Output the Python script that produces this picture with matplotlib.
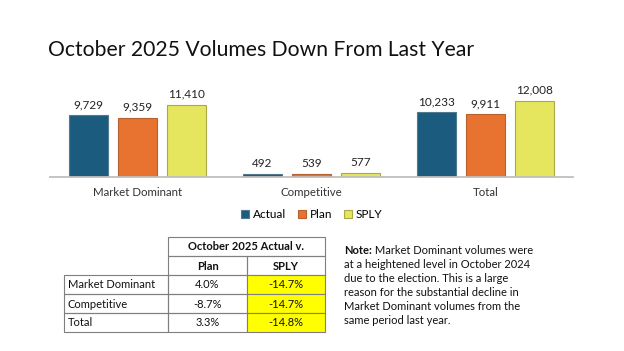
import matplotlib
matplotlib.use("Agg")
import matplotlib.pyplot as plt
from matplotlib.patches import Rectangle
import numpy as np

plt.rcParams['font.family'] = ['Lato', 'DejaVu Sans']

title = "October 2025 Volumes Down From Last Year"
categories = ["Market Dominant", "Competitive", "Total"]
series_names = ["Actual", "Plan", "SPLY"]
actual = [9729, 492, 10233]
plan = [9359, 539, 9911]
sply = [11410, 577, 12008]

table_header = "October 2025 Actual v."
table_cols = ["Plan", "SPLY"]
table_rows = ["Market Dominant", "Competitive", "Total"]
vs_plan = ["4.0%", "-8.7%", "3.3%"]
vs_sply = ["-14.7%", "-14.7%", "-14.8%"]

note_bold = "Note:"
note_lines = [" Market Dominant volumes were",
              "at a heightened level in October 2024",
              "due to the election. This is a large",
              "reason for the substantial decline in",
              "Market Dominant volumes from the",
              "same period last year."]

colors = ["#1B5C7E", "#E8722F", "#E6E65E"]
edges = ["#4F7A90", "#B9602F", "#A9A94A"]

W, H = 624, 351
fig = plt.figure(figsize=(W / 100, H / 100), dpi=100)

# overlay axes in pixel coords
ov = fig.add_axes([0, 0, 1, 1])
ov.set_xlim(0, W)
ov.set_ylim(H, 0)
ov.axis('off')

ov.text(48, 50, title, fontsize=15.2, va='center', ha='left', color='#111111')

# bar chart
ax = fig.add_axes([50 / W, 1 - 177 / H, 523 / W, 86 / H])
ax.patch.set_alpha(0)
x = np.arange(len(categories))
bw = 0.2235
off = 0.281
for i, (vals, name) in enumerate(zip([actual, plan, sply], series_names)):
    xs = x + (i - 1) * off
    bars = ax.bar(xs, vals, bw, color=colors[i], edgecolor=edges[i], linewidth=0.8,
                  label=name, zorder=2)
    for b, v in zip(bars, vals):
        ax.annotate(f"{v:,}", (b.get_x() + b.get_width() / 2, v), xytext=(0, 3.5),
                    textcoords='offset points', ha='center', va='bottom',
                    fontsize=8.5, color='#222222', annotation_clip=False)
ax.set_xlim(-0.5, 2.5)
ax.set_ylim(0, 13540)
for s in ['top', 'right', 'left']:
    ax.spines[s].set_visible(False)
ax.spines['bottom'].set_color('#BFBFBF')
ax.spines['bottom'].set_linewidth(1.3)
ax.set_yticks([])
ax.set_xticks(x)
ax.set_xticklabels(categories, fontsize=8.3, color='#333333')
ax.tick_params(axis='x', length=0, pad=7)
leg = ax.legend(loc='upper center', bbox_to_anchor=(0.5, -0.315), ncol=3, frameon=False,
                fontsize=8.5, handlelength=0.7, handleheight=0.7, handletextpad=0.3,
                columnspacing=1.0, borderaxespad=0)

# table
cx = [64, 168, 247, 325]
ry = [237, 256, 275, 294, 313, 332]
lc = '#7F7F7F'
lw = 0.8
fs = 8
# header rows
ov.add_patch(Rectangle((cx[1], ry[0]), cx[3] - cx[1], ry[1] - ry[0], fill=False, ec=lc, lw=lw))
ov.text((cx[1] + cx[3]) / 2, (ry[0] + ry[1]) / 2 + 0.5, table_header, ha='center', va='center',
        fontsize=fs, fontweight='bold', color='#111111')
for j, c in enumerate(table_cols):
    ov.add_patch(Rectangle((cx[1 + j], ry[1]), cx[2 + j] - cx[1 + j], ry[2] - ry[1], fill=False, ec=lc, lw=lw))
    ov.text((cx[1 + j] + cx[2 + j]) / 2, (ry[1] + ry[2]) / 2 + 0.5, c, ha='center', va='center',
            fontsize=fs, fontweight='bold', color='#111111')
for r, name in enumerate(table_rows):
    y0, y1 = ry[2 + r], ry[3 + r]
    ym = (y0 + y1) / 2 + 0.5
    ov.add_patch(Rectangle((cx[0], y0), cx[1] - cx[0], y1 - y0, fill=False, ec=lc, lw=lw))
    ov.text(cx[0] + 4, ym, name, ha='left', va='center', fontsize=fs, color='#111111')
    ov.add_patch(Rectangle((cx[1], y0), cx[2] - cx[1], y1 - y0, fill=False, ec=lc, lw=lw))
    ov.text((cx[1] + cx[2]) / 2, ym, vs_plan[r], ha='center', va='center', fontsize=fs, color='#111111')
    ov.add_patch(Rectangle((cx[2], y0), cx[3] - cx[2], y1 - y0, fc='#FFFF00', ec=lc, lw=lw))
    ov.text((cx[2] + cx[3]) / 2, ym, vs_sply[r], ha='center', va='center', fontsize=fs, color='#111111')

# note
t = ov.text(344, 250, note_bold, ha='left', va='center', fontsize=8, fontweight='bold', color='#111111')
fig.canvas.draw()
bb = t.get_window_extent()
ov.text(344 + bb.width, 250, note_lines[0], ha='left', va='center', fontsize=8, color='#111111')
for k, line in enumerate(note_lines[1:]):
    ov.text(344, 250 + 14 * (k + 1), line, ha='left', va='center', fontsize=8, color='#111111')

fig.savefig("out.png", dpi=100)
